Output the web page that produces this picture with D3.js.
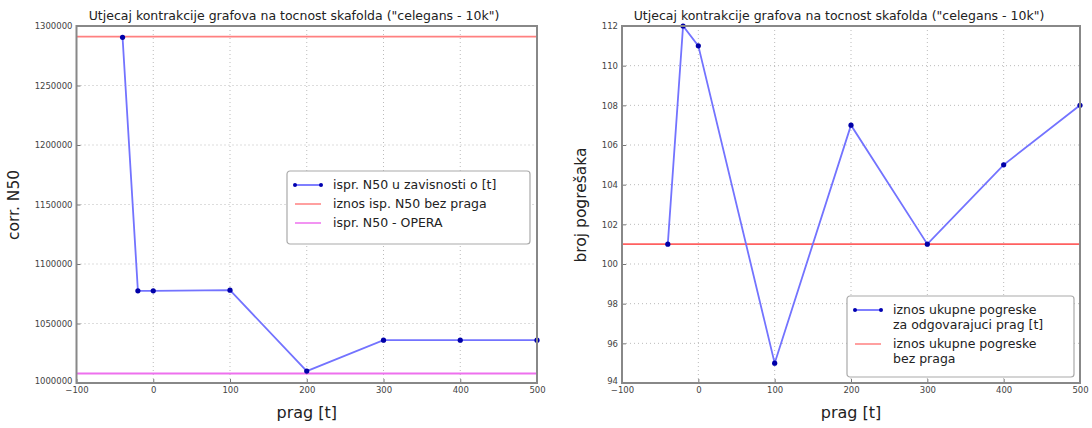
<!DOCTYPE html>
<html lang="en">
<head>
    <meta charset="UTF-8">
    <title>Utjecaj kontrakcije grafova</title>
    <script src="https://cdn.jsdelivr.net/npm/d3@7"></script>
    <style>
        body { margin: 0; background: #fff; }
        svg text { font-family: "DejaVu Sans", sans-serif; }
    </style>
</head>
<body>
<svg id="chart"></svg>
<script>
    // thresholds (prag [t])
    var prag = [-40, -20, 0, 100, 200, 300, 400, 500]

    // left panel: corrected N50
    var n50 = [1290500, 1077500, 1077500, 1078000, 1010000, 1036000, 1036000, 1036000]
    var n50BezPraga = 1291000
    var n50Opera = 1008000
    var n50Ticks = [1000000, 1050000, 1100000, 1150000, 1200000, 1250000, 1300000]

    // right panel: number of errors
    var pogreske = [101, 112, 111, 95, 107, 101, 105, 108]
    var pogreskeBezPraga = 101
    var pogreskeTicks = [94, 96, 98, 100, 102, 104, 106, 108, 110, 112]

    var xTicks = [-100, 0, 100, 200, 300, 400, 500]
    var title = "Utjecaj kontrakcije grafova na tocnost skafolda (\"celegans - 10k\")"

    var svg = d3.select("#chart")
                .attr("width", 1092)
                .attr("height", 428)

    function panel(opts) {
        var g = svg.append("g")

        var x = d3.scaleLinear().domain([-100, 500]).range([opts.left, opts.right])
        var y = d3.scaleLinear().domain(opts.yDomain).range([383, 26])

        // dotted grid
        g.selectAll(".gx").data(xTicks.slice(1, -1)).join("line")
            .attr("x1", d => x(d)).attr("x2", d => x(d))
            .attr("y1", 26).attr("y2", 383)
            .attr("stroke", "#bbb").attr("stroke-width", 1).attr("stroke-dasharray", "1,3")
        g.selectAll(".gy").data(opts.yTicks.slice(1, -1)).join("line")
            .attr("x1", opts.left).attr("x2", opts.right)
            .attr("y1", d => y(d)).attr("y2", d => y(d))
            .attr("stroke", "#bbb").attr("stroke-width", 1).attr("stroke-dasharray", "1,3")

        // axes, ticks pointing inward
        var xAxis = g.append("g")
            .attr("transform", "translate(0,383)")
            .call(d3.axisBottom(x).tickValues(xTicks).tickSize(-4).tickPadding(5).tickFormat(d => d < 0 ? "\u2212" + Math.abs(d) : d))
        var yAxis = g.append("g")
            .attr("transform", "translate(" + opts.left + ",0)")
            .call(d3.axisLeft(y).tickValues(opts.yTicks).tickSize(-4).tickPadding(4).tickFormat(d3.format("d")))
        ;[xAxis, yAxis].forEach(a => {
            a.select(".domain").remove()
            a.selectAll("line").attr("stroke", "#777")
            a.selectAll("text").attr("fill", "#444").attr("font-size", 8.5)
        })
        xAxis.selectAll("text").attr("dy", "0.6em")
        // lowest y label sits just above the -100 label like in the original
        yAxis.selectAll("text").filter(d => d === opts.yDomain[0]).attr("dy", "0.1em")

        // constant reference lines
        opts.hlines.forEach(h => {
            g.append("line")
                .attr("x1", opts.left).attr("x2", opts.right)
                .attr("y1", y(h.value)).attr("y2", y(h.value))
                .attr("stroke", h.color).attr("stroke-width", 1.8)
        })

        // data line + markers
        var line = d3.line().x((d, i) => x(prag[i])).y(d => y(d))
        g.append("path")
            .attr("d", line(opts.values))
            .attr("fill", "none")
            .attr("stroke", "#7373ff")
            .attr("stroke-width", 1.8)
        g.selectAll(".pt").data(opts.values).join("circle")
            .attr("cx", (d, i) => x(prag[i]))
            .attr("cy", d => y(d))
            .attr("r", 2.6)
            .attr("fill", "#0000a8")

        // frame
        g.append("rect")
            .attr("x", opts.left).attr("y", 26)
            .attr("width", opts.right - opts.left).attr("height", 357)
            .attr("fill", "none").attr("stroke", "#888").attr("stroke-width", 2)

        // title and labels
        g.append("text")
            .attr("x", opts.titleX).attr("y", 20)
            .attr("text-anchor", "middle").attr("font-size", 12.5).attr("fill", "#222")
            .text(title)
        g.append("text")
            .attr("x", (opts.left + opts.right) / 2).attr("y", 418)
            .attr("text-anchor", "middle").attr("font-size", 16).attr("fill", "#222")
            .text("prag [t]")
        g.append("text")
            .attr("transform", "translate(" + opts.yLabelX + ",205) rotate(-90)")
            .attr("text-anchor", "middle").attr("font-size", 15.5).attr("fill", "#222")
            .text(opts.yLabel)

        // legend
        var lg = g.append("g").attr("transform", "translate(" + opts.legend.x + "," + opts.legend.y + ")")
        lg.append("rect")
            .attr("width", opts.legend.w).attr("height", opts.legend.h)
            .attr("rx", 3).attr("fill", "#fff").attr("stroke", "#aaa").attr("stroke-width", 1.2)
        var yy = 14
        opts.legend.items.forEach(it => {
            lg.append("line")
                .attr("x1", 8).attr("x2", 34).attr("y1", yy).attr("y2", yy)
                .attr("stroke", it.color).attr("stroke-width", 1.5)
            if (it.marker) {
                lg.selectAll(null).data([8, 34]).join("circle")
                    .attr("cx", d => d).attr("cy", yy).attr("r", 2).attr("fill", "#0000b0")
            }
            it.lines.forEach((t, k) => {
                lg.append("text")
                    .attr("x", 46).attr("y", yy + k * 15)
                    .attr("dy", "0.35em").attr("font-size", 12.5).attr("fill", "#222")
                    .text(t)
            })
            yy += it.lines.length * 15 + 4
        })
    }

    panel({
        left: 76.5, right: 537, titleX: 294,
        yDomain: [1000000, 1300000], yTicks: n50Ticks,
        values: n50,
        hlines: [{value: n50BezPraga, color: "#ff8080"}, {value: n50Opera, color: "#ee70ee"}],
        yLabel: "corr. N50", yLabelX: 19,
        legend: {x: 287, y: 171, w: 243, h: 73, items: [
            {color: "#5555ff", marker: true, lines: ["ispr. N50 u zavisnosti o [t]"]},
            {color: "#ff8080", lines: ["iznos isp. N50 bez praga"]},
            {color: "#ee70ee", lines: ["ispr. N50 - OPERA"]}
        ]}
    })

    panel({
        left: 622, right: 1080, titleX: 839,
        yDomain: [94, 112], yTicks: pogreskeTicks,
        values: pogreske,
        hlines: [{value: pogreskeBezPraga, color: "#ff6060"}],
        yLabel: "broj pogrešaka", yLabelX: 586,
        legend: {x: 847, y: 296, w: 227, h: 81, items: [
            {color: "#5555ff", marker: true, lines: ["iznos ukupne pogreske", "za odgovarajuci prag [t]"]},
            {color: "#ff8080", lines: ["iznos ukupne pogreske", "bez praga"]}
        ]}
    })
</script>
</body>
</html>
